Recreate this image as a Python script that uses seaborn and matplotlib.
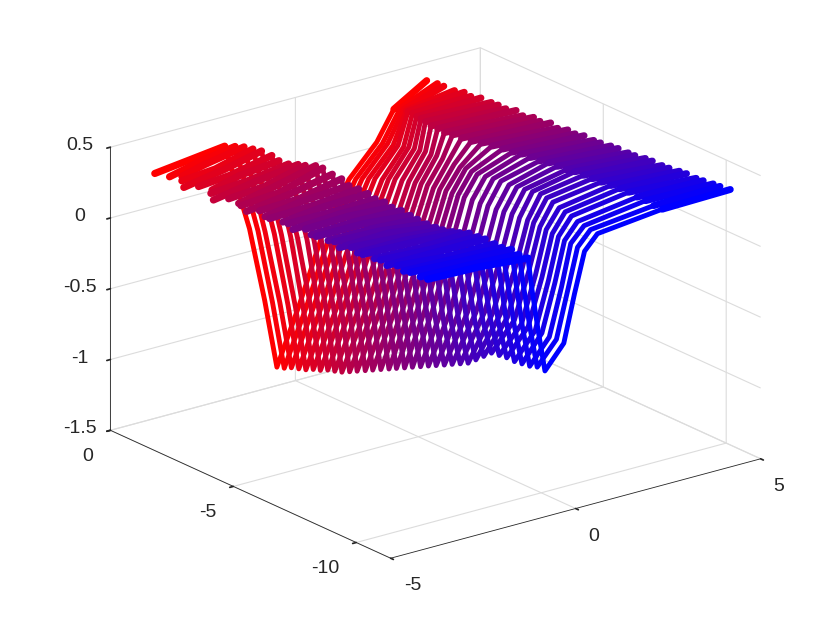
import numpy as np
import matplotlib
matplotlib.use("Agg")
import matplotlib.pyplot as plt
import seaborn as sns

y_rows = [0,-.33,-.65,-.98,-1.30,-1.63,-1.95,-2.28,-2.61,-2.93,-3.26,-3.58,-3.91,-4.23,-4.56,-4.89,-5.21,-5.54,-5.86,-6.19,-6.51,-6.84,-7.17,-7.49,-7.82,-8.14,-8.47,-8.79,-9.12,-9.45,-9.77,-10.10,-10.42,-10.75,-11.07,-11.40]

x0 = [-3.80,-3.62,-3.50,-3.72,-3.88,-3.70,-3.55,-3.80,-3.95,-3.75,-3.70,-3.85,-3.92,-3.78,-3.85,-3.95,-3.80,-3.88,-3.96,-3.84,-3.90,-3.98,-3.88,-3.92,-4.00,-3.90,-3.95,-4.02,-3.92,-3.98,-4.02,-3.96,-4.00,-4.04,-3.98,-4.00]
z0 = [.23,.22,.24,.25,.24,.26,.25,.27,.26,.28,.27,.29,.28,.30,.29,.31,.30,.32,.31,.33,.32,.34,.33,.35,.34,.36,.35,.37,.36,.38,.37,.39,.38,.40,.39,.40]
x1 = [-2.85,-2.80,-2.88,-2.82,-2.78,-2.84,-2.80,-2.76,-2.82,-2.78,-2.74,-2.80,-2.76,-2.72,-2.78,-2.74,-2.70,-2.76,-2.72,-2.68,-2.74,-2.70,-2.66,-2.72,-2.68,-2.70,-2.66,-2.64,-2.68,-2.66,-2.62,-2.66,-2.64,-2.62,-2.65,-2.63]
z1 = [.26,.27,.28,.27,.29,.28,.30,.29,.31,.30,.32,.31,.32,.31,.33,.32,.33,.32,.33,.34,.33,.34,.33,.34,.35,.34,.35,.36,.35,.36,.37,.36,.37,.38,.38,.39]
x2 = [-1.91,-1.85,-1.82,-1.80,-1.78,-1.72,-1.74,-1.70,-1.66,-1.68,-1.62,-1.64,-1.60,-1.56,-1.58,-1.54,-1.50,-1.52,-1.48,-1.50,-1.46,-1.44,-1.46,-1.42,-1.40,-1.42,-1.38,-1.40,-1.36,-1.34,-1.36,-1.32,-1.34,-1.30,-1.31,-1.29]
z2 = [.29,.31,.33,.34,.35,.34,.33,.33,.35,.37,.39,.40,.38,.37,.35,.35,.34,.33,.33,.32,.32,.31,.31,.30,.30,.31,.32,.34,.36,.36,.37,.36,.36,.37,.36,.36]
x3 = [-1.24,-1.23,-1.25,-1.22,-1.24,-1.21,-1.23,-1.20,-1.22,-1.23,-1.21,-1.24,-1.20,-1.22,-1.23,-1.19,-1.21,-1.22,-1.20,-1.23,-1.19,-1.21,-1.22,-1.18,-1.20,-1.21,-1.19,-1.20,-1.18,-1.20,-1.19,-1.17,-1.19,-1.18,-1.19,-1.18]
z3 = [-.34,-.33,-.31,-.30,-.28,-.27,-.26,-.24,-.23,-.21,-.20,-.18,-.17,-.16,-.14,-.13,-.11,-.10,-.08,-.07,-.05,-.04,-.02,-.01,.01,.02,.04,.05,.06,.08,.09,.10,.11,.12,.13,.13]
x4 = [-.83,-.84,-.85,-.85,-.86,-.87,-.87,-.88,-.89,-.89,-.90,-.90,-.91,-.91,-.92,-.92,-.93,-.93,-.94,-.94,-.95,-.95,-.96,-.96,-.97,-.97,-.98,-.98,-.99,-.99,-1.00,-1.00,-1.01,-1.01,-1.02,-1.02]
z4 = [-.875,-.86,-.84,-.83,-.82,-.80,-.78,-.76,-.75,-.73,-.71,-.69,-.67,-.65,-.63,-.61,-.59,-.57,-.55,-.53,-.50,-.48,-.46,-.44,-.42,-.40,-.37,-.33,-.29,-.27,-.25,-.23,-.21,-.19,-.17,-.16]
x5 = [-.50,-.52,-.54,-.56,-.58,-.60,-.62,-.64,-.67,-.69,-.70,-.71,-.71,-.72,-.72,-.72,-.73,-.73,-.73,-.73,-.73,-.74,-.74,-.74,-.74,-.74,-.75,-.75,-.76,-.77,-.78,-.79,-.80,-.81,-.82,-.83]
z5 = [-1.37,-1.35,-1.32,-1.30,-1.28,-1.25,-1.23,-1.20,-1.18,-1.16,-1.13,-1.10,-1.07,-1.04,-1.01,-.98,-.95,-.92,-.89,-.86,-.83,-.80,-.77,-.74,-.71,-.68,-.63,-.58,-.53,-.52,-.51,-.51,-.50,-.49,-.47,-.47]
x6 = [.11,.09,.08,.06,.04,.03,.01,-.01,-.03,-.04,-.06,-.08,-.10,-.12,-.13,-.15,-.17,-.18,-.19,-.17,-.15,-.13,-.11,-.10,-.08,-.07,-.08,-.11,-.14,-.17,-.20,-.23,-.26,-.28,-.30,-.32]
z6 = [-.97,-.95,-.92,-.90,-.88,-.86,-.83,-.81,-.79,-.77,-.74,-.71,-.69,-.66,-.63,-.60,-.58,-.55,-.53,-.51,-.49,-.47,-.44,-.42,-.39,-.37,-.35,-.35,-.34,-.34,-.33,-.33,-.32,-.32,-.31,-.31]
x7 = [.73,.71,.70,.68,.66,.65,.63,.61,.60,.58,.54,.51,.47,.43,.40,.36,.32,.29,.27,.28,.29,.30,.31,.32,.32,.33,.33,.29,.25,.21,.17,.13,.09,.05,.01,-.03]
z7 = [-.52,-.50,-.47,-.45,-.43,-.41,-.38,-.36,-.34,-.32,-.30,-.28,-.26,-.24,-.22,-.20,-.18,-.16,-.14,-.13,-.12,-.10,-.09,-.08,-.06,-.05,-.04,-.03,-.02,-.02,-.01,0,.01,.01,.02,.02]
x8 = [1.45,1.41,1.37,1.33,1.29,1.26,1.22,1.18,1.15,1.12,1.07,1.02,.97,.92,.87,.82,.77,.72,.67,.67,.67,.66,.66,.66,.66,.65,.65,.60,.55,.50,.45,.40,.35,.30,.27,.24]
z8 = [-.18,-.15,-.12,-.09,-.06,-.04,-.01,.02,.04,.06,.08,.10,.12,.13,.15,.17,.18,.20,.21,.22,.22,.23,.23,.24,.25,.25,.26,.27,.27,.28,.28,.29,.29,.30,.30,.30]
x9 = [2.20,2.13,2.06,1.99,1.91,1.84,1.77,1.70,1.63,1.57,1.50,1.44,1.38,1.32,1.26,1.20,1.14,1.08,1.02,1.02,1.02,1.01,1.01,1.01,1.00,1.00,1.00,.95,.90,.85,.80,.75,.70,.66,.62,.59]
z9 = [.03,.05,.08,.10,.13,.15,.18,.20,.22,.24,.25,.27,.28,.29,.30,.31,.33,.34,.35,.36,.37,.38,.38,.39,.40,.41,.42,.42,.42,.41,.41,.41,.40,.40,.40,.40]
x10 = [2.66,2.60,2.50,2.35,2.18,2.08,1.98,1.88,1.78,1.72,1.68,1.65,1.65,1.68,1.72,1.78,1.85,1.92,1.97,2.00,2.02,2.05,2.08,2.10,2.12,2.14,2.16,2.18,2.20,2.24,2.27,2.29,2.31,2.32,2.33,2.34]
z10 = [.23,.26,.29,.32,.35,.37,.38,.40,.41,.41,.42,.42,.43,.43,.43,.44,.44,.44,.44,.45,.45,.45,.46,.46,.46,.47,.47,.47,.47,.47,.47,.47,.46,.46,.45,.45]
x11 = [3.55,3.62,3.58,3.65,3.70,3.66,3.72,3.78,3.75,3.74,3.80,3.77,3.84,3.80,3.87,3.84,3.90,3.88,3.91,3.95,3.92,3.98,3.96,4.02,3.98,4.05,4.02,4.07,4.04,4.10,4.08,4.12,4.10,4.15,4.12,4.18]
z11 = [.37,.37,.38,.37,.38,.38,.39,.38,.39,.39,.40,.39,.40,.40,.41,.40,.41,.41,.42,.41,.42,.42,.43,.42,.43,.43,.44,.43,.44,.44,.45,.44,.45,.45,.46,.46]

x_ticks = [-5, 0, 5]
y_ticks = [-10, -5, 0]
z_ticks = [-1.5, -1, -0.5, 0, 0.5]
z_labels = ['-1.5', '-1', '-0.5', '0', '0.5']

X = np.column_stack([x0,x1,x2,x3,x4,x5,x6,x7,x8,x9,x10,x11])
Z = np.column_stack([z0,z1,z2,z3,z4,z5,z6,z7,z8,z9,z10,z11])

sns.set_theme(style='white')
plt.rcParams['font.family'] = ['Liberation Sans', 'DejaVu Sans']
plt.rcParams['axes.unicode_minus'] = False
palette = sns.blend_palette(['#ff0000', '#0000ff'], len(y_rows))

fig = plt.figure(figsize=(8.4, 6.3), dpi=100, facecolor='white')
ax = fig.add_axes([7/840, 3.5/630, 1, 1], projection='3d', proj_type='ortho', computed_zorder=False)
ax.view_init(elev=20.5, azim=-127.5)
ax.set_box_aspect((469, 463, 304), zoom=1.112)

for i, y in enumerate(y_rows):
    Y = np.full(X.shape[1], y)
    for part, width in ((slice(0, 3), 5.2), (slice(2, 11), 3.5), (slice(10, 12), 5.0)):
        ax.plot(X[i][part], Y[part], Z[i][part], color=palette[i], lw=width,
                solid_capstyle='round', solid_joinstyle='round', zorder=10 + i)

ax.set_xlim(-5, 5)
ax.set_ylim(-11.4, 0)
ax.set_zlim(-1.5, 0.5)
ax.set_xticks(x_ticks)
ax.set_yticks(y_ticks)
ax.set_zticks(z_ticks)
ax.set_zticklabels(z_labels)
ax.tick_params(labelsize=14, colors='#262626', pad=3)
for t in ax.get_xticklabels():
    t.set_ha('left')
for t in ax.get_yticklabels():
    t.set_ha('right')
for t in ax.get_zticklabels():
    t.set_va('center')
for axis in (ax.xaxis, ax.yaxis, ax.zaxis):
    axis.set_pane_color((1, 1, 1, 0))
    axis.pane.set_edgecolor((1, 1, 1, 0))
    axis._axinfo['grid'].update(color='#dcdcdc', linewidth=0.8)
    axis._axinfo['tick'].update(inward_factor=0.12, outward_factor=0.0)
    axis.line.set_color('#262626')
    axis.line.set_linewidth(0.6)
fig.savefig('out.png', dpi=100)
